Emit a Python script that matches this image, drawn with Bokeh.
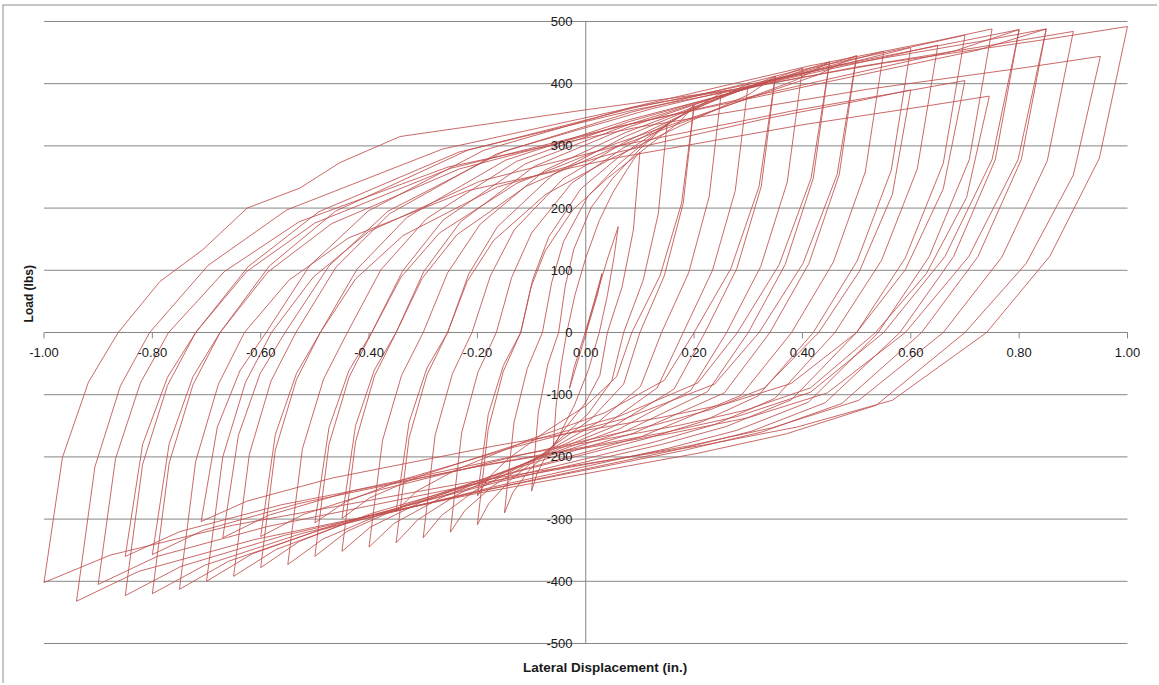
import math
from bokeh.plotting import figure
from bokeh.models import ColumnDataSource, Span
from bokeh.core.properties import value
from bokeh.embed import file_html
from bokeh.resources import INLINE

# ---- data (Lateral Displacement in., Load lbs) ----
x_ticks = [-1.0, -0.8, -0.6, -0.4, -0.2, 0.0, 0.2, 0.4, 0.6, 0.8, 1.0]
x_tick_labels = ["-1.00", "-0.80", "-0.60", "-0.40", "-0.20", "0.00", "0.20", "0.40", "0.60", "0.80", "1.00"]
y_ticks = [-500, -400, -300, -200, -100, 0, 100, 200, 300, 400, 500]
y_tick_labels = ["-500", "-400", "-300", "-200", "-100", "0", "100", "200", "300", "400", "500"]

disp_c00 = [0.0, 0.015, 0.03, 0.022, 0.005, -0.012, -0.03, -0.022, -0.004, 0.02, 0.04]
load_c00 = [0, 48, 95, 62, 12, -38, -90, -58, -8, 60, 118]
disp_c01 = [0.06, 0.052, 0.04, 0.025, 0.005, -0.02, -0.04, -0.052, -0.06, -0.055, -0.045, -0.035, -0.02, 0.0, 0.025, 0.05, 0.075, 0.09]
load_c01 = [170, 120, 60, 0, -60, -115, -150, -172, -185, -120, -50, 0, 60, 120, 180, 225, 260, 280]
disp_c02 = [0.10, 0.088, 0.067, 0.04, 0.026, -0.002, -0.037, -0.072, -0.090, -0.10, -0.0875, -0.07, -0.05, -0.038, -0.022, 0.010, 0.05, 0.10, 0.134]
load_c02 = [290, 165, 73, 0, -69, -115, -153, -196, -227, -255, -128, -51, 0, 74, 134, 201, 248, 295, 322]
disp_c03 = [0.15, 0.134, 0.106, 0.07, 0.048, 0.004, -0.051, -0.106, -0.135, -0.15, -0.1325, -0.108, -0.08, -0.063, -0.041, 0.004, 0.06, 0.13, 0.178]
load_c03 = [335, 191, 84, 0, -78, -131, -174, -223, -258, -290, -145, -58, 0, 80, 146, 219, 270, 321, 350]
disp_r04 = [0.20, 0.177, 0.137, 0.085, 0.057, 0.0, -0.072, -0.143, -0.180, -0.20, -0.18, -0.152, -0.12, -0.101, -0.075, -0.024, 0.04, 0.12, 0.174]
load_r04 = [365, 208, 91, 0, -71, -118, -158, -203, -234, -263, -132, -53, 0, 73, 131, 197, 248, 303, 339]
disp_c04 = [0.20, 0.18, 0.145, 0.10, 0.07, 0.01, -0.065, -0.14, -0.179, -0.20, -0.18, -0.152, -0.12, -0.098, -0.068, -0.009, 0.065, 0.158, 0.22]
load_c04 = [365, 208, 91, 0, -83, -139, -185, -238, -275, -309, -155, -62, 0, 85, 154, 231, 285, 339, 370]
disp_c05 = [0.25, 0.228, 0.19, 0.14, 0.101, 0.023, -0.075, -0.172, -0.223, -0.25, -0.229, -0.199, -0.165, -0.137, -0.100, -0.026, 0.068, 0.184, 0.263]
load_c05 = [385, 219, 96, 0, -87, -144, -193, -247, -286, -321, -161, -64, 0, 88, 160, 240, 296, 352, 384]
disp_c06 = [0.30, 0.276, 0.234, 0.18, 0.132, 0.036, -0.084, -0.204, -0.266, -0.30, -0.278, -0.246, -0.21, -0.176, -0.132, -0.042, 0.07, 0.21, 0.305]
load_c06 = [400, 228, 100, 0, -89, -149, -198, -254, -294, -330, -165, -66, 0, 91, 165, 247, 305, 363, 396]
disp_r07 = [0.35, 0.32, 0.268, 0.20, 0.145, 0.035, -0.103, -0.24, -0.312, -0.35, -0.326, -0.293, -0.255, -0.219, -0.170, -0.074, 0.048, 0.199, 0.302]
load_r07 = [412, 235, 103, 0, -77, -129, -172, -221, -255, -287, -144, -57, 0, 82, 148, 222, 280, 342, 383]
disp_c07 = [0.35, 0.324, 0.279, 0.22, 0.163, 0.049, -0.094, -0.236, -0.310, -0.35, -0.326, -0.293, -0.255, -0.216, -0.163, -0.059, 0.073, 0.236, 0.348]
load_c07 = [412, 235, 103, 0, -91, -152, -203, -260, -301, -338, -169, -68, 0, 94, 170, 255, 315, 374, 408]
disp_c08 = [0.40, 0.372, 0.323, 0.26, 0.194, 0.062, -0.103, -0.268, -0.354, -0.40, -0.375, -0.34, -0.30, -0.255, -0.195, -0.075, 0.075, 0.263, 0.39]
load_c08 = [425, 242, 106, 0, -93, -155, -207, -266, -307, -345, -173, -69, 0, 96, 174, 261, 322, 383, 418]
disp_r09 = [0.45, 0.416, 0.357, 0.28, 0.207, 0.061, -0.122, -0.304, -0.399, -0.45, -0.425, -0.39, -0.35, -0.302, -0.238, -0.11, 0.05, 0.25, 0.386]
load_r09 = [435, 248, 109, 0, -81, -135, -179, -230, -266, -299, -150, -60, 0, 87, 157, 235, 296, 361, 405]
disp_c09 = [0.45, 0.42, 0.368, 0.30, 0.225, 0.075, -0.113, -0.30, -0.398, -0.45, -0.425, -0.39, -0.35, -0.299, -0.231, -0.095, 0.075, 0.288, 0.432]
load_c09 = [435, 248, 109, 0, -95, -158, -211, -271, -313, -352, -176, -70, 0, 98, 178, 267, 329, 392, 427]
disp_r10 = [0.50, 0.464, 0.401, 0.32, 0.238, 0.074, -0.131, -0.336, -0.443, -0.50, -0.474, -0.437, -0.395, -0.341, -0.270, -0.127, 0.053, 0.276, 0.428]
load_r10 = [445, 254, 111, 0, -83, -138, -184, -236, -272, -306, -153, -61, 0, 89, 160, 240, 303, 369, 414]
disp_c10 = [0.50, 0.468, 0.412, 0.34, 0.256, 0.088, -0.122, -0.332, -0.441, -0.50, -0.474, -0.437, -0.395, -0.338, -0.263, -0.112, 0.078, 0.314, 0.474]
load_c10 = [445, 254, 111, 0, -97, -162, -216, -277, -320, -360, -180, -72, 0, 99, 181, 271, 334, 398, 434]
disp_c11 = [0.55, 0.516, 0.457, 0.38, 0.287, 0.101, -0.132, -0.364, -0.485, -0.55, -0.523, -0.484, -0.44, -0.378, -0.294, -0.128, 0.08, 0.34, 0.517]
load_c11 = [452, 258, 113, 0, -101, -168, -224, -287, -332, -373, -187, -75, 0, 101, 183, 275, 339, 403, 440]
disp_c12 = [0.60, 0.564, 0.501, 0.42, 0.318, 0.216, 0.114, -0.141, -0.396, -0.529, -0.60, -0.573, -0.534, -0.49, -0.425, -0.337, -0.163, 0.055, 0.328, 0.513]
load_c12 = [458, 261, 115, 0, -102, -143, -170, -227, -291, -336, -378, -189, -76, 0, 86, 156, 234, 289, 343, 374]
disp_c12r = [0.60, 0.566, 0.505, 0.43, 0.33, 0.23, 0.13, -0.12, -0.38, -0.52, -0.60, -0.573, -0.534, -0.49, -0.422, -0.330, -0.148, 0.08, 0.365, 0.559]
load_c12r = [390, 222, 98, 0, -89, -124, -148, -197, -253, -292, -328, -164, -66, 0, 102, 185, 277, 342, 407, 444]
disp_c13 = [0.65, 0.612, 0.546, 0.46, 0.349, 0.238, 0.127, -0.151, -0.428, -0.572, -0.65, -0.621, -0.581, -0.535, -0.461, -0.362, -0.165, 0.083, 0.391, 0.601]
load_c13 = [462, 263, 116, 0, -106, -148, -176, -235, -302, -349, -392, -196, -78, 0, 105, 191, 287, 354, 421, 459]
disp_c14 = [0.70, 0.66, 0.59, 0.50, 0.38, 0.26, 0.14, -0.16, -0.46, -0.616, -0.70, -0.67, -0.628, -0.58, -0.503, -0.401, -0.196, 0.06, 0.38, 0.598]
load_c14 = [478, 272, 120, 0, -108, -151, -180, -240, -308, -356, -400, -200, -80, 0, 89, 162, 243, 300, 356, 389]
disp_c14r = [0.70, 0.66, 0.59, 0.50, 0.379, 0.258, 0.137, -0.166, -0.468, -0.625, -0.71, -0.68, -0.638, -0.59, -0.51, -0.402, -0.188, 0.08, 0.415, 0.643]
load_c14r = [405, 231, 101, 0, -82, -115, -137, -182, -234, -271, -304, -152, -61, 0, 107, 195, 293, 361, 429, 468]
disp_c15 = [0.75, 0.708, 0.634, 0.54, 0.411, 0.28, 0.153, -0.170, -0.492, -0.660, -0.75, -0.72, -0.678, -0.63, -0.548, -0.438, -0.218, 0.058, 0.401, 0.635]
load_c15 = [488, 278, 122, 0, -112, -157, -186, -248, -318, -368, -413, -207, -83, 0, 84, 152, 228, 281, 334, 365]
disp_c15r = [0.745, 0.703, 0.629, 0.535, 0.415, 0.295, 0.174, -0.128, -0.429, -0.586, -0.67, -0.641, -0.601, -0.555, -0.474, -0.365, -0.149, 0.123, 0.461, 0.692]
load_c15r = [380, 217, 95, 0, -89, -125, -149, -198, -254, -294, -330, -165, -66, 0, 107, 195, 292, 360, 429, 468]
disp_r16 = [0.80, 0.75, 0.663, 0.55, 0.415, 0.28, 0.145, -0.193, -0.53, -0.706, -0.80, -0.769, -0.725, -0.675, -0.587, -0.469, -0.233, 0.063, 0.431, 0.682]
load_r16 = [487, 278, 122, 0, -96, -135, -161, -214, -275, -318, -357, -179, -71, 0, 97, 175, 263, 331, 404, 453]
disp_c16 = [0.80, 0.756, 0.679, 0.58, 0.442, 0.305, 0.166, -0.179, -0.524, -0.703, -0.80, -0.769, -0.725, -0.675, -0.584, -0.462, -0.218, 0.088, 0.469, 0.728]
load_c16 = [487, 278, 122, 0, -113, -159, -189, -252, -323, -374, -420, -210, -84, 0, 107, 195, 293, 361, 429, 468]
disp_r17 = [0.85, 0.798, 0.707, 0.59, 0.446, 0.30, 0.158, -0.202, -0.562, -0.749, -0.85, -0.818, -0.772, -0.72, -0.626, -0.50, -0.249, 0.065, 0.458, 0.724]
load_r17 = [488, 278, 122, 0, -97, -137, -162, -216, -277, -320, -360, -180, -72, 0, 98, 176, 264, 332, 405, 454]
disp_c17 = [0.85, 0.804, 0.724, 0.62, 0.473, 0.325, 0.179, -0.189, -0.556, -0.747, -0.85, -0.818, -0.772, -0.72, -0.623, -0.493, -0.234, 0.09, 0.495, 0.770]
load_c17 = [488, 278, 122, 0, -114, -160, -190, -254, -326, -376, -423, -212, -85, 0, 106, 194, 290, 358, 426, 465]
disp_c18 = [0.90, 0.852, 0.768, 0.66, 0.504, 0.345, 0.192, -0.198, -0.588, -0.791, -0.90, -0.868, -0.822, -0.77, -0.667, -0.529, -0.254, 0.09, 0.52, 0.812]
load_c18 = [484, 276, 121, 0, -109, -153, -182, -243, -312, -360, -405, -203, -81, 0, 98, 178, 266, 329, 391, 426]
disp_c19 = [0.95, 0.90, 0.813, 0.70, 0.536, 0.37, 0.208, -0.202, -0.612, -0.825, -0.94, -0.906, -0.859, -0.805, -0.697, -0.552, -0.264, 0.098, 0.549, 0.856]
load_c19 = [444, 253, 111, 0, -117, -163, -194, -259, -333, -384, -432, -216, -86, 0, 108, 197, 295, 364, 433, 472]
disp_c20 = [1.00, 0.948, 0.857, 0.74, 0.566, 0.39, 0.218, -0.217, -0.652, -0.878, -1.00, -0.966, -0.918, -0.863, -0.786, -0.707, -0.625, -0.528, -0.454, -0.343, 0.0, 0.27]
load_c20 = [492, 280, 123, 0, -109, -152, -181, -241, -310, -358, -402, -201, -80, 0, 82, 133, 200, 232, 273, 315, 358, 390]

cycles = [
    (disp_c00, load_c00), (disp_c01, load_c01), (disp_c02, load_c02), (disp_c03, load_c03),
    (disp_r04, load_r04), (disp_c04, load_c04), (disp_c05, load_c05), (disp_c06, load_c06),
    (disp_r07, load_r07), (disp_c07, load_c07), (disp_c08, load_c08),
    (disp_r09, load_r09), (disp_c09, load_c09), (disp_r10, load_r10), (disp_c10, load_c10),
    (disp_c11, load_c11), (disp_c12, load_c12), (disp_c12r, load_c12r), (disp_c13, load_c13),
    (disp_c14, load_c14), (disp_c14r, load_c14r), (disp_c15, load_c15), (disp_c15r, load_c15r),
    (disp_r16, load_r16), (disp_c16, load_c16), (disp_r17, load_r17), (disp_c17, load_c17),
    (disp_c18, load_c18), (disp_c19, load_c19), (disp_c20, load_c20),
]

disp = []
load = []
for dx, ly in cycles:
    disp.extend(dx)
    load.extend(ly)
src = ColumnDataSource(data=dict(disp=disp, load=load))

# ---- styling ----
GRID = "#868686"
TXT = "#1a1a1a"
FONT = "Liberation Sans"
X_LO, X_HI = -1.0, 1.0
Y_LO, Y_HI = -500, 500

# pixel scale of the reference: 541.75 px per inch, 0.622 px per lb
p = figure(width=1157, height=683,
           x_range=(-1.0766, 1.0554), y_range=(-564.3, 527.3),
           x_axis_type=None, y_axis_type=None,
           output_backend="svg", toolbar_location=None,
           min_border_left=2, min_border_top=4, min_border_right=0, min_border_bottom=0)
p.outline_line_color = None
p.background_fill_color = "white"
p.border_fill_color = "white"
p.xgrid.visible = False
p.ygrid.visible = False

# chart-area border (left and top edges)
p.add_layout(Span(location=-1.0766, dimension="height", line_color="#8c8c8c", line_width=2))
p.add_layout(Span(location=527.3, dimension="width", line_color="#8c8c8c", line_width=2))

# horizontal gridlines across the plot area
p.segment(x0=[X_LO] * len(y_ticks), y0=y_ticks, x1=[X_HI] * len(y_ticks), y1=y_ticks,
          line_color=GRID, line_width=1)
# axes crossing at the origin
p.segment(x0=[X_LO, 0.0], y0=[0, Y_LO], x1=[X_HI, 0.0], y1=[0, Y_HI], line_color=GRID, line_width=1)
# x tick marks (downward)
p.segment(x0=x_ticks, y0=[0] * len(x_ticks), x1=x_ticks, y1=[-9.5] * len(x_ticks),
          line_color=GRID, line_width=1)

# data
p.line("disp", "load", source=src, line_color="#C0504D", line_width=1, line_alpha=0.85)

# tick labels
p.text(x=x_ticks, y=[-32] * len(x_ticks), text=x_tick_labels, text_align="center",
       text_baseline="middle", text_font=value(FONT), text_font_size="13px", text_color=TXT)
p.text(x=[-0.0245] * len(y_ticks), y=y_ticks, text=y_tick_labels, text_align="right",
       text_baseline="middle", text_font=value(FONT), text_font_size="13px", text_color=TXT)

# axis titles
p.text(x=[0.0392], y=[-538.6], text=["Lateral Displacement  (in.)"], text_align="center",
       text_baseline="middle", text_font=value(FONT), text_font_size="13.5px",
       text_font_style="bold", text_color=TXT)
p.text(x=[-1.0286], y=[65], text=["Load  (lbs)"], angle=math.pi / 2, text_align="center",
       text_baseline="middle", text_font=value(FONT), text_font_size="12px",
       text_font_style="bold", text_color=TXT)

open("out.html", "w").write(file_html(p, INLINE))
